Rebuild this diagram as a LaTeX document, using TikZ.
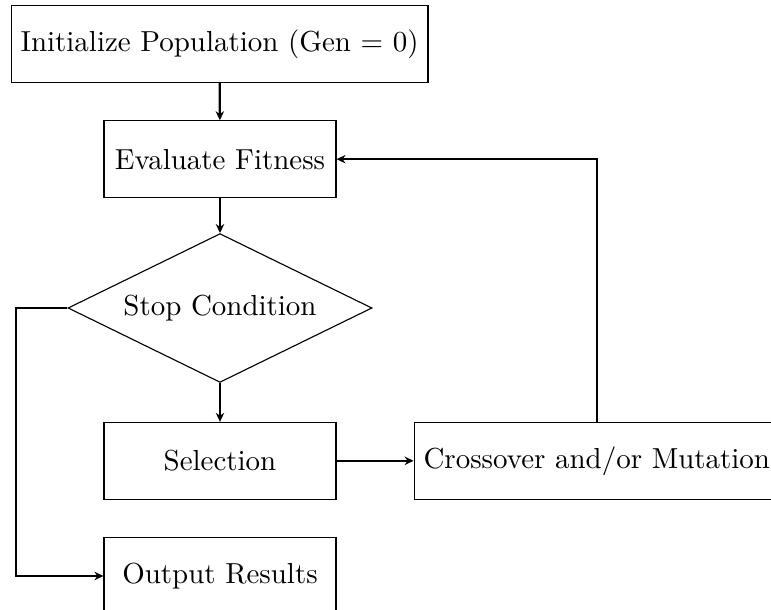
\documentclass[tikz,border=0pt]{standalone}
\usetikzlibrary{arrows.meta,shapes.geometric}
\tikzset{
  font=\fontsize{10.3pt}{12.4pt}\selectfont,
  flow/.style={
    -{Stealth[length=3.2pt,width=3pt]},
    draw=black,
    thick
  },
  block/.style={
    rectangle,
    draw=black,
    align=center,
    minimum width=29mm,
    minimum height=9.6mm
  },
  decision/.style={
    diamond,
    draw=black,
    aspect=2,
    minimum width=38mm,
    minimum height=18.6mm,
    inner sep=2pt
  }
}

\begin{document}
\begin{tikzpicture}[x=1mm,y=1mm]
  \useasboundingbox (0,0) rectangle (96.375,-76.25);

  \node[block] (init) at (27.45,-5.5) {Initialize Population (Gen = 0)};
  \node[block] (eval) at (27.5,-19.9) {Evaluate Fitness};
  \node[decision] (cond) at (27.5,-38.5) {Stop Condition};
  \node[block] (select) at (27.5,-57.6) {Selection};
  \node[block] (vary) at (74.6,-57.6) {Crossover and/or Mutation};
  \node[block] (out) at (27.5,-72) {Output Results};

  \coordinate (exit) at (2,-38.5);

  \draw[flow] (init) -- (eval);
  \draw[flow] (eval) -- (cond);
  \draw[flow] (cond) -- (select);
  \draw[flow] (select) -- (vary);
  \draw[flow] (vary.north) |- (eval.east);
  \draw[flow] (cond.west) -- (exit) |- (out.west);
\end{tikzpicture}
\end{document}
